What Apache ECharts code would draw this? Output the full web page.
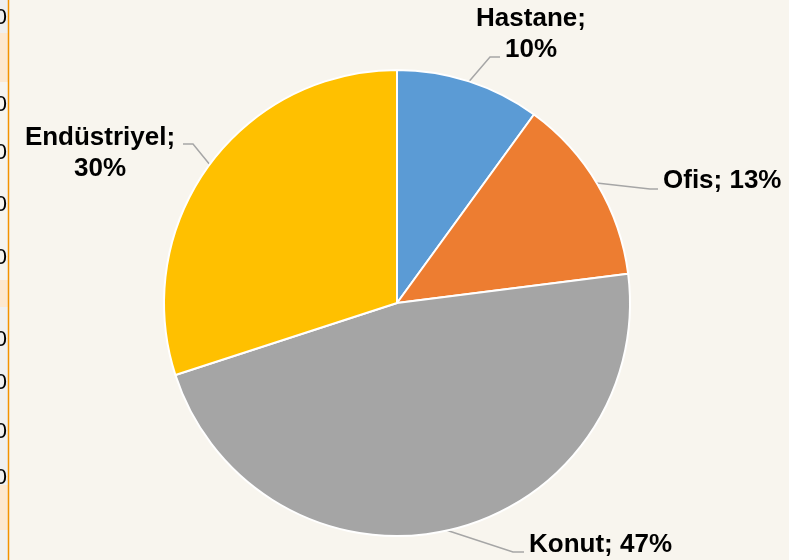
<!DOCTYPE html>
<html>
<head>
<meta charset="utf-8">
<script src="https://cdn.jsdelivr.net/npm/echarts@6/dist/echarts.min.js"></script>
<style>
  html, body { margin: 0; padding: 0; background: #f8f5ee; }
  #chart { width: 789px; height: 560px; }
</style>
</head>
<body>
<div id="chart"></div>
<script>
// pie data
const categories = ['Hastane', 'Ofis', 'Konut', 'Endüstriyel'];
const shares = [10, 13, 47, 30];
// labels that break after the ";"
const wrapped = ['Hastane', 'Endüstriyel'];

// the cut-off spreadsheet column on the left edge
const stripZeroRows = [18, 105, 153, 205, 258, 340, 383, 432, 478];
const stripBands = [
  { y: 0, h: 33, fill: '#efefef' },
  { y: 33, h: 49, fill: '#fde8cf' },
  { y: 82, h: 198, fill: '#f6f4ef' },
  { y: 280, h: 27, fill: '#fde8cf' },
  { y: 307, h: 178, fill: '#f0f0f0' },
  { y: 485, h: 45, fill: '#fde8cf' },
  { y: 530, h: 30, fill: '#f0f0f0' }
];

const pieCenter = [397, 303];
const pieRadius = 233;

// label placement: text anchor, where the leader leaves the pie (deg from 12 o'clock),
// elbow and end of the leader
const labelSpots = [
  { x: 531, y: 34, align: 'center', angle: 18, elbow: [490, 57], end: [500, 57] },
  { x: 663, y: 181, align: 'left', angle: 59, elbow: [650, 189], end: [658, 189] },
  { x: 529, y: 545, align: 'left', angle: 167.5, elbow: [513, 552], end: [524, 552] },
  { x: 100, y: 153, align: 'center', angle: 306.5, elbow: [193, 144], end: [183, 144] }
];

var myChart = echarts.init(document.getElementById('chart'));

var graphics = [];
stripBands.forEach(function (b) {
  graphics.push({
    type: 'rect', left: 0, top: b.y, silent: true,
    shape: { width: 8, height: b.h },
    style: { fill: b.fill }
  });
});
stripZeroRows.forEach(function (y) {
  graphics.push({
    type: 'text', silent: true, x: 7, y: y,
    style: {
      text: '0', fill: '#000', font: '22px "Liberation Sans"',
      textAlign: 'right', textVerticalAlign: 'middle'
    }
  });
});
graphics.push({
  type: 'line', silent: true,
  shape: { x1: 8.5, y1: 0, x2: 8.5, y2: 560 },
  style: { stroke: '#f39200', lineWidth: 1.5 }
});

function edgePoint(deg) {
  var a = deg * Math.PI / 180;
  return [pieCenter[0] + pieRadius * Math.sin(a), pieCenter[1] - pieRadius * Math.cos(a)];
}

var option = {
  backgroundColor: '#f8f5ee',
  animation: false,
  color: ['#5b9bd5', '#ed7d31', '#a5a5a5', '#ffc000'],
  graphic: graphics,
  series: [{
    type: 'pie',
    center: pieCenter,
    radius: pieRadius,
    startAngle: 90,
    clockwise: true,
    itemStyle: { borderColor: '#ffffff', borderWidth: 2 },
    label: {
      show: true,
      position: 'outside',
      fontFamily: 'Liberation Sans',
      fontSize: 26,
      fontWeight: 'bold',
      color: '#000',
      lineHeight: 31,
      formatter: function (p) {
        var sep = wrapped.indexOf(p.name) >= 0 ? ';\n' : '; ';
        return p.name + sep + Math.round(p.percent) + '%';
      }
    },
    labelLine: {
      show: true,
      length: 18,
      length2: 10,
      lineStyle: { color: '#a6a6a6', width: 1.5 }
    },
    labelLayout: function (params) {
      var s = labelSpots[params.dataIndex];
      return {
        x: s.x, y: s.y, align: s.align, verticalAlign: 'middle',
        labelLinePoints: [edgePoint(s.angle), s.elbow, s.end]
      };
    },
    data: categories.map(function (name, i) {
      return { name: name, value: shares[i] };
    })
  }]
};

myChart.setOption(option);
window.addEventListener('resize', myChart.resize);
</script>
</body>
</html>
